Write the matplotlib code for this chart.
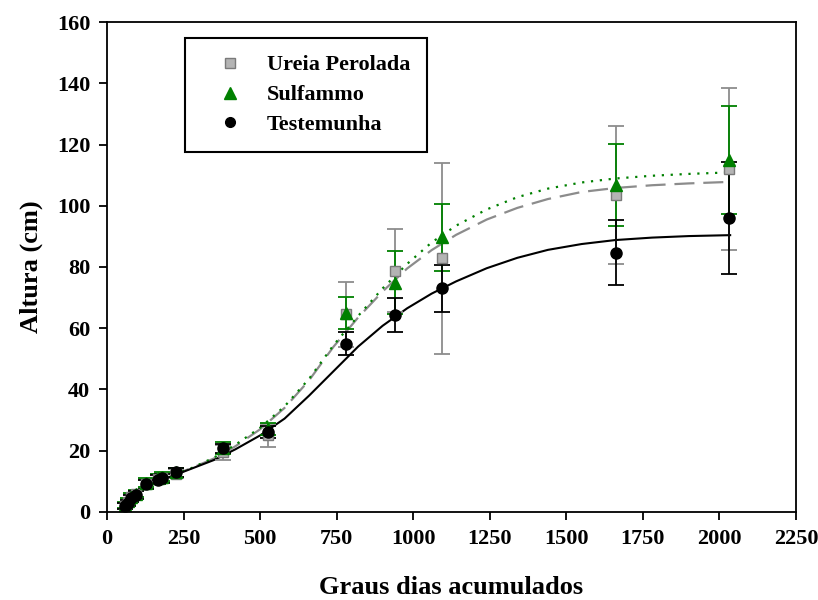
"""
Altura das plantas em funcao dos graus dias acumulados.
"""

import matplotlib
matplotlib.use('Agg')
import matplotlib.pyplot as plt
from matplotlib.lines import Line2D

# Observed data (same sampling dates for all treatments)
gd = [58, 68, 80, 95, 128, 168, 180, 226, 380, 525, 782, 940, 1095, 1663, 2032]

test_y = [2.0, 3.0, 4.5, 5.5, 9.0, 10.5, 11.0, 13.0, 20.8, 26.2, 54.9, 64.4, 73.0, 84.7, 96.0]
test_err = [1.0, 1.0, 1.2, 1.2, 1.5, 1.5, 1.5, 1.5, 1.5, 2.0, 3.8, 5.5, 7.6, 10.6, 18.2]

sulf_y = [2.2, 3.5, 5.0, 6.0, 9.5, 11.0, 11.5, 13.0, 21.0, 27.0, 65.1, 74.9, 89.7, 106.8, 114.9]
sulf_err = [1.0, 1.0, 1.2, 1.2, 1.5, 1.5, 1.5, 1.5, 2.0, 2.0, 5.2, 10.2, 11.0, 13.3, 17.7]

ureia_y = [2.0, 3.2, 4.8, 5.8, 9.2, 10.8, 11.2, 12.5, 19.5, 25.0, 64.5, 78.8, 82.8, 103.5, 111.9]
ureia_err = [1.0, 1.0, 1.2, 1.2, 1.5, 1.5, 1.5, 1.5, 2.5, 3.7, 10.5, 13.5, 31.3, 22.6, 26.4]

# Fitted curves
curve_x = [50, 70, 100, 130, 170, 220, 280, 350, 420, 500, 580, 660, 740, 820, 900,
           980, 1060, 1140, 1240, 1340, 1440, 1550, 1660, 1780, 1900, 2035]
test_fit = [1.0, 3.5, 6.0, 8.0, 10.0, 12.0, 14.3, 17.0, 20.5, 25.0, 30.5, 38.0, 46.0, 54.0, 60.8,
            66.5, 71.3, 75.3, 79.6, 83.0, 85.6, 87.5, 88.8, 89.6, 90.1, 90.4]
ureia_fit = [1.5, 4.0, 6.5, 8.5, 10.3, 12.2, 14.5, 17.5, 21.5, 27.0, 34.0, 43.0, 54.0, 63.5, 72.0,
             79.5, 85.5, 90.5, 95.5, 99.3, 102.2, 104.5, 105.8, 106.7, 107.3, 107.8]
sulf_fit = [1.5, 4.0, 6.5, 8.5, 10.3, 12.2, 14.5, 17.8, 22.0, 27.5, 34.5, 43.5, 54.5, 64.0, 73.0,
            81.0, 88.0, 93.5, 98.8, 102.8, 105.6, 107.6, 108.9, 109.8, 110.4, 110.9]

labels = ['Ureia Perolada', 'Sulfammo', 'Testemunha']

plt.rcParams['font.family'] = ['Liberation Serif', 'DejaVu Serif']
plt.rcParams['font.weight'] = 'bold'

fig = plt.figure(figsize=(8.18, 6), dpi=100)
ax = fig.add_axes([0.1308, 0.1467, 0.8423, 0.8166])

green = '#008000'
gray = '#8c8c8c'

# curves
ax.plot(curve_x, ureia_fit, color=gray, lw=1.6, dashes=(9, 4))
ax.plot(curve_x, sulf_fit, color=green, lw=1.6, dashes=(1, 3))
ax.plot(curve_x, test_fit, color='black', lw=1.5)

# points with error bars
eb = dict(capsize=6, elinewidth=1.3, capthick=1.3, ls='none')
ax.errorbar(gd, ureia_y, yerr=ureia_err, fmt='s', color=gray, ecolor=gray,
            mfc='#b4b4b4', mec='#7a7a7a', ms=7, **eb)
ax.errorbar(gd, sulf_y, yerr=sulf_err, fmt='^', color=green, ecolor=green, ms=8, **eb)
ax.errorbar(gd, test_y, yerr=test_err, fmt='o', color='black', ecolor='black', ms=8, **eb)

ax.set_xlim(0, 2250)
ax.set_ylim(0, 160)
ax.set_xticks(range(0, 2251, 250))
ax.set_yticks(range(0, 161, 20))
ax.tick_params(direction='out', length=6, width=1.3, labelsize=16, pad=6)
for s in ax.spines.values():
    s.set_linewidth(1.3)

ax.set_xlabel('Graus dias acumulados', fontsize=19, fontweight='bold', labelpad=20)
ax.set_ylabel('Altura (cm)', fontsize=19, fontweight='bold', labelpad=10)

handles = [Line2D([], [], ls='none', marker='s', mfc='#b4b4b4', mec='#7a7a7a', ms=7),
           Line2D([], [], ls='none', marker='^', color=green, ms=8),
           Line2D([], [], ls='none', marker='o', color='black', ms=7)]
leg = ax.legend(handles, labels, loc='upper left', bbox_to_anchor=(0.113, 0.967),
                borderaxespad=0, fontsize=16, handlelength=2.6, handletextpad=0.35,
                borderpad=0.75, labelspacing=0.42, fancybox=False, framealpha=1,
                edgecolor='black')
leg.get_frame().set_linewidth(1.5)

fig.savefig('out.png', dpi=100)
